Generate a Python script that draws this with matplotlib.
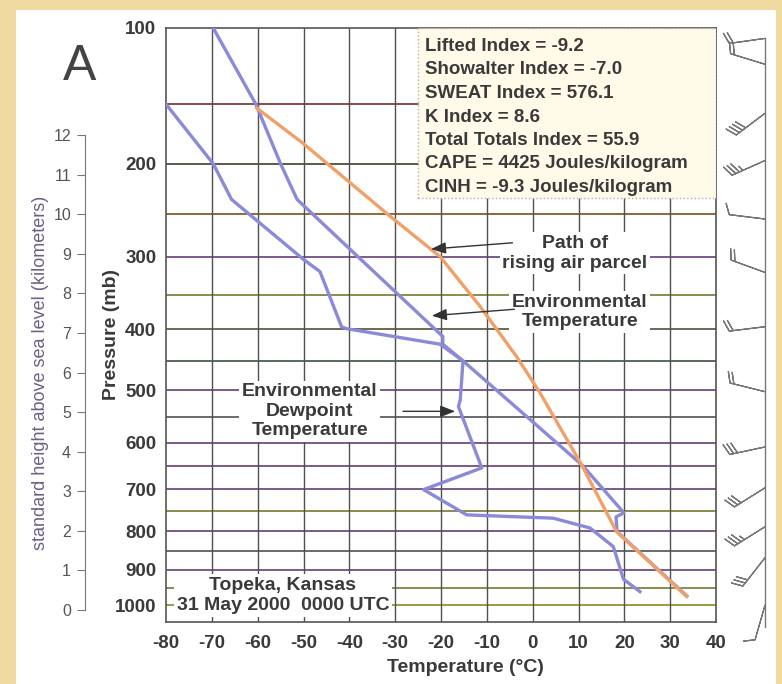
import numpy as np
import matplotlib
matplotlib.use("Agg")
import matplotlib.pyplot as plt
from matplotlib.patches import Rectangle

# ---------------- data ----------------
env_T = [-69.7, -60.4, -55.0, -51.4, -19.6, -19.6, -15.2, 10.8, 19.9, 18.2, 18.4, 33.6]
env_p = [100, 150, 200, 235, 411, 423, 450, 647, 755, 765, 801, 973]

dew_T = [-80.0, -69.7, -65.7, -50.1, -46.4, -41.7, -40.6, -20.2, -15.2, -15.8, -16.2,
         -11.1, -23.8, -14.4, 4.5, 12.5, 17.6, 19.8, 23.4]
dew_p = [150, 200, 235, 303, 319, 396, 399, 423, 450, 518, 530,
         653, 701, 760, 768, 792, 839, 926, 961]

parcel_T = [-60.2, -50.0, -31.1, -20.2, -11.5, -3.5, 1.6, 10.7, 18.3, 33.6]
parcel_p = [153, 182, 253, 300, 366, 443, 505, 647, 801, 975]

p_ticks = [100, 200, 300, 400, 500, 600, 700, 800, 900, 1000]
p_grid = [150, 200, 250, 300, 350, 400, 450, 500, 550, 600, 650, 700, 750, 800, 850, 900, 950, 1000]
T_ticks = [-80, -70, -60, -50, -40, -30, -20, -10, 0, 10, 20, 30, 40]
height_ticks = list(range(0, 13))

wind_p = [106, 122, 157, 197, 256, 320, 396, 503, 609, 697, 789, 868, 1000]
wind_dir = [262, 287, 233, 246, 277, 290, 263, 284, 258, 238, 238, 218, 196]
wind_spd = [20, 20, 40, 35, 10, 20, 20, 20, 30, 30, 35, 30, 10]

indices = ["Lifted Index = -9.2",
           "Showalter Index = -7.0",
           "SWEAT Index = 576.1",
           "K Index = 8.6",
           "Total Totals Index = 55.9",
           "CAPE = 4425 Joules/kilogram",
           "CINH = -9.3 Joules/kilogram"]

# ---------------- style ----------------
plt.rcParams['font.family'] = ['Liberation Sans', 'DejaVu Sans']
W, H = 782, 684
TXT = '#3a3a3a'
BLUE = '#8a8ad8'
ORANGE = '#f0a068'

fig = plt.figure(figsize=(W / 100, H / 100), dpi=100)
fig.patch.set_facecolor('#f0daa2')
fig.patches.append(Rectangle((16 / W, 0), (776 - 16) / W, 1 - 10 / H,
                             transform=fig.transFigure, facecolor='white',
                             edgecolor='none', zorder=-10))


def px(x0, y0, x1, y1):
    return [x0 / W, 1 - y1 / H, (x1 - x0) / W, (y1 - y0) / H]


ax = fig.add_axes(px(166, 28, 716, 622))
K = 0.286
fwd = lambda p: np.power(np.clip(p, 1e-6, None), K)
inv = lambda y: np.power(np.clip(y, 1e-6, None), 1 / K)
ax.set_yscale('function', functions=(fwd, inv))
ax.set_ylim(1050, 100)
ax.set_xlim(-80, 40)

# grid
hcols = ['#8a4a4a', '#5a5a4a', '#8a6a3a', '#7a5a8a', '#8a8a50', '#6a6a50', '#5a6a5a',
         '#7a5a8a', '#6a6a6a', '#7a5a8a', '#7a5a8a', '#7a5a8a', '#8a8a50', '#7a5a8a',
         '#6a6a6a', '#7a5a8a', '#8a8a50', '#9a9a40']
for p, c in zip(p_grid, hcols):
    ax.axhline(p, color=c, lw=1.4, zorder=1)
for t in T_ticks[1:-1]:
    ax.axvline(t, color='#505050', lw=1.0, zorder=1)

for s in ax.spines.values():
    s.set_color('#555555')
    s.set_linewidth(1.2)

ax.set_yticks(p_ticks)
ax.set_yticklabels([str(p) for p in p_ticks])
ax.yaxis.set_minor_locator(matplotlib.ticker.NullLocator())
ax.set_xticks(T_ticks)
ax.set_xticklabels([str(t) for t in T_ticks])
ax.tick_params(axis='both', length=0, labelsize=13.5, labelcolor=TXT)
ax.tick_params(axis='y', pad=7)
ax.tick_params(axis='x', pad=9)
for lab in ax.get_xticklabels() + ax.get_yticklabels():
    lab.set_fontweight('bold')

# lines
ax.plot(dew_T, dew_p, color=BLUE, lw=2.4, zorder=4, solid_joinstyle='round')
ax.plot(env_T, env_p, color=BLUE, lw=2.4, zorder=4, solid_joinstyle='round')
ax.plot(parcel_T, parcel_p, color=ORANGE, lw=2.4, zorder=5)

# labels with arrows
lab_kw = dict(ha='center', va='center', fontsize=14, fontweight='bold', color=TXT,
              linespacing=1.2, zorder=3,
              bbox=dict(facecolor='white', edgecolor='none', pad=2))
ax.text(9.2, 296, "Path of\nrising air parcel", **lab_kw)
ax.text(10.3, 374, "Environmental\nTemperature", **lab_kw)
ax.text(-48.6, 539, "Environmental\nDewpoint\nTemperature", **lab_kw)
ax.text(-54.5, 972, "Topeka, Kansas\n31 May 2000  0000 UTC", **lab_kw)

arr = dict(arrowstyle='-|>,head_length=0.9,head_width=0.35', color='#333333', lw=1.0)
ax.annotate('', xy=(-22.8, 291), xytext=(-3.8, 283), arrowprops=arr, zorder=6)
ax.annotate('', xy=(-22.6, 380), xytext=(-3.4, 370), arrowprops=arr, zorder=6)
ax.annotate('', xy=(-16.3, 539), xytext=(-28.9, 539), arrowprops=arr, zorder=6)

# index box
x0 = (418 - 166) / 550
y0 = (622 - 198) / 594
ax.add_patch(Rectangle((x0, y0), 1 - x0, 1 - y0, transform=ax.transAxes,
                       facecolor='#fffbe8', edgecolor='#b0b0b0', ls=':', lw=1.0, zorder=7))
for i, s in enumerate(indices):
    ax.text((425 - 166) / 550, (622 - (46.5 + i * 23.5)) / 594, s, transform=ax.transAxes,
            ha='left', va='center', fontsize=13.5, fontweight='bold', color=TXT, zorder=8)

# axis titles
fig.text(465 / W, 1 - 668 / H, "Temperature (\u00b0C)", ha='center', va='center',
         fontsize=14, fontweight='bold', color=TXT)
fig.text(112 / W, 1 - 335 / H, "Pressure (mb)", ha='center', va='center', rotation=90,
         fontsize=14, fontweight='bold', color=TXT)
fig.text(80 / W, 1 - 67 / H, "A", ha='center', va='center', fontsize=36, color='#444444')

# height axis
hax = fig.add_axes(px(85, 135, 86, 610))
hax.set_ylim(0, 12)
hax.set_xticks([])
hax.set_yticks(height_ticks)
hax.patch.set_alpha(0)
for k in ['right', 'top', 'bottom']:
    hax.spines[k].set_visible(False)
hax.spines['left'].set_color('#777777')
hax.tick_params(axis='y', length=6, direction='out', color='#777777',
                labelsize=11.5, labelcolor='#555555', pad=4)
hax.set_ylabel("standard height above sea level (kilometers)", fontsize=13,
               color='#6e5f86', labelpad=3)

# wind barbs
bax = fig.add_axes(px(718, 28, 782, 622), sharey=ax)
bax.set_xlim(0, 1)
bax.axis('off')
d = np.deg2rad(wind_dir)
spd = np.array(wind_spd, dtype=float)
u = -spd * np.sin(d)
v = -spd * np.cos(d)
xs = np.full(len(wind_p), (765 - 718) / 64)
bax.plot([xs[0], xs[0]], [wind_p[0], 1065], color='#777777', lw=1.0, clip_on=False)
bax.barbs(xs, wind_p, u, v, length=7.2, color='#777777', linewidth=0.9, clip_on=False,
          sizes=dict(height=0.3, spacing=0.11))

fig.savefig("out.png", dpi=100, facecolor=fig.get_facecolor())
